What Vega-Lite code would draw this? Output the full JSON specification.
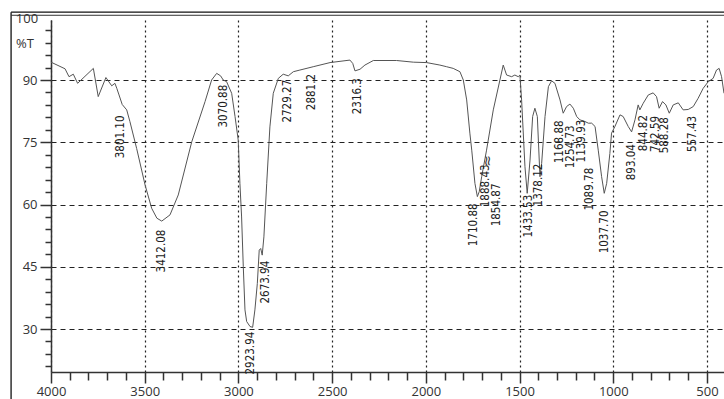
{
  "$schema": "https://vega.github.io/schema/vega-lite/v6.json",
  "width": 673,
  "height": 352,
  "autosize": {"type": "none"},
  "padding": {"left": 51, "top": 20, "right": 0, "bottom": 27},
  "background": "white",
  "config": {"view": {"stroke": null}},
  "datasets": {
    "spectrum": [
      {"wn": 4000, "t": 94.3}, {"wn": 3925, "t": 92.7}, {"wn": 3904, "t": 90.8}, {"wn": 3881, "t": 91.4},
      {"wn": 3858, "t": 89.2}, {"wn": 3774, "t": 92.8}, {"wn": 3748, "t": 86.0}, {"wn": 3707, "t": 90.6},
      {"wn": 3676, "t": 88.6}, {"wn": 3659, "t": 89.2}, {"wn": 3649, "t": 88.0}, {"wn": 3637, "t": 86.4},
      {"wn": 3620, "t": 84.1}, {"wn": 3596, "t": 82.8}, {"wn": 3579, "t": 80.0}, {"wn": 3543, "t": 73.5},
      {"wn": 3498, "t": 64.7}, {"wn": 3463, "t": 59.1}, {"wn": 3435, "t": 56.7}, {"wn": 3409, "t": 56.0},
      {"wn": 3365, "t": 57.5}, {"wn": 3321, "t": 62.3}, {"wn": 3249, "t": 75.1}, {"wn": 3178, "t": 84.8},
      {"wn": 3143, "t": 90.0}, {"wn": 3116, "t": 91.6}, {"wn": 3095, "t": 91.0}, {"wn": 3081, "t": 90.0},
      {"wn": 3063, "t": 89.6}, {"wn": 3036, "t": 86.8}, {"wn": 3018, "t": 81.2}, {"wn": 3001, "t": 75.5},
      {"wn": 2992, "t": 65.1}, {"wn": 2983, "t": 57.0}, {"wn": 2974, "t": 45.0}, {"wn": 2965, "t": 34.6},
      {"wn": 2956, "t": 31.8}, {"wn": 2938, "t": 30.6}, {"wn": 2924, "t": 30.4}, {"wn": 2912, "t": 34.6},
      {"wn": 2899, "t": 41.0}, {"wn": 2889, "t": 49.0}, {"wn": 2881, "t": 49.4}, {"wn": 2873, "t": 47.8},
      {"wn": 2864, "t": 52.2}, {"wn": 2849, "t": 65.1}, {"wn": 2832, "t": 78.7}, {"wn": 2814, "t": 86.8},
      {"wn": 2787, "t": 90.4}, {"wn": 2761, "t": 91.4}, {"wn": 2734, "t": 91.0}, {"wn": 2707, "t": 92.0},
      {"wn": 2672, "t": 92.4}, {"wn": 2601, "t": 93.2}, {"wn": 2511, "t": 94.2}, {"wn": 2405, "t": 94.8},
      {"wn": 2390, "t": 94.0}, {"wn": 2378, "t": 92.2}, {"wn": 2351, "t": 92.6}, {"wn": 2325, "t": 93.6},
      {"wn": 2280, "t": 94.7}, {"wn": 2156, "t": 94.7}, {"wn": 2067, "t": 94.3}, {"wn": 1996, "t": 94.2},
      {"wn": 1925, "t": 93.6}, {"wn": 1889, "t": 93.2}, {"wn": 1854, "t": 92.8}, {"wn": 1818, "t": 92.0},
      {"wn": 1800, "t": 90.0}, {"wn": 1782, "t": 85.2}, {"wn": 1765, "t": 77.2}, {"wn": 1755, "t": 73.1},
      {"wn": 1738, "t": 65.1}, {"wn": 1725, "t": 61.9}, {"wn": 1715, "t": 63.1}, {"wn": 1702, "t": 66.7},
      {"wn": 1676, "t": 73.1}, {"wn": 1640, "t": 82.8}, {"wn": 1587, "t": 93.6}, {"wn": 1578, "t": 92.4},
      {"wn": 1569, "t": 91.2}, {"wn": 1542, "t": 90.8}, {"wn": 1525, "t": 91.2}, {"wn": 1507, "t": 90.8},
      {"wn": 1498, "t": 91.2}, {"wn": 1489, "t": 85.2}, {"wn": 1471, "t": 69.1}, {"wn": 1459, "t": 62.7},
      {"wn": 1444, "t": 70.7}, {"wn": 1430, "t": 81.2}, {"wn": 1418, "t": 83.2}, {"wn": 1405, "t": 81.2},
      {"wn": 1391, "t": 66.7}, {"wn": 1382, "t": 69.9}, {"wn": 1364, "t": 81.2}, {"wn": 1346, "t": 88.4},
      {"wn": 1329, "t": 89.8}, {"wn": 1311, "t": 89.2}, {"wn": 1284, "t": 85.2}, {"wn": 1267, "t": 82.0},
      {"wn": 1249, "t": 83.6}, {"wn": 1231, "t": 84.2}, {"wn": 1213, "t": 83.2}, {"wn": 1195, "t": 81.2},
      {"wn": 1178, "t": 80.4}, {"wn": 1151, "t": 80.0}, {"wn": 1133, "t": 79.6}, {"wn": 1115, "t": 79.6},
      {"wn": 1097, "t": 78.8}, {"wn": 1080, "t": 73.1}, {"wn": 1062, "t": 66.7}, {"wn": 1048, "t": 62.7},
      {"wn": 1035, "t": 65.1}, {"wn": 1018, "t": 72.3}, {"wn": 1009, "t": 77.2}, {"wn": 991, "t": 78.8},
      {"wn": 964, "t": 81.6}, {"wn": 947, "t": 81.2}, {"wn": 920, "t": 78.8}, {"wn": 902, "t": 77.5},
      {"wn": 884, "t": 80.4}, {"wn": 867, "t": 84.0}, {"wn": 858, "t": 82.8}, {"wn": 840, "t": 84.4},
      {"wn": 813, "t": 86.4}, {"wn": 787, "t": 86.9}, {"wn": 769, "t": 86.0}, {"wn": 755, "t": 83.2},
      {"wn": 737, "t": 84.8}, {"wn": 719, "t": 84.0}, {"wn": 701, "t": 82.0}, {"wn": 680, "t": 84.0},
      {"wn": 653, "t": 84.5}, {"wn": 627, "t": 82.8}, {"wn": 600, "t": 82.9}, {"wn": 573, "t": 83.6},
      {"wn": 547, "t": 85.6}, {"wn": 520, "t": 88.0}, {"wn": 493, "t": 89.6}, {"wn": 467, "t": 90.4},
      {"wn": 449, "t": 92.4}, {"wn": 435, "t": 92.8}, {"wn": 422, "t": 90.8}, {"wn": 409, "t": 86.8}
    ],
    "peaks": [
      {"wn": 3626, "t": 76.3, "label": "3801.10"},
      {"wn": 3077, "t": 83.7, "label": "3070.88"},
      {"wn": 3408, "t": 48.8, "label": "3412.08"},
      {"wn": 2933, "t": 24.2, "label": "2923.94"},
      {"wn": 2853, "t": 41.3, "label": "2673.94"},
      {"wn": 2735, "t": 84.9, "label": "2729.27"},
      {"wn": 2607, "t": 87.1, "label": "2881.2"},
      {"wn": 2362, "t": 86.1, "label": "2316.3"},
      {"wn": 1743, "t": 55.1, "label": "1710.88"},
      {"wn": 1679, "t": 64.5, "label": "1888.43"},
      {"wn": 1620, "t": 59.9, "label": "1854.87"},
      {"wn": 1450, "t": 57.2, "label": "1433.53"},
      {"wn": 1396, "t": 64.7, "label": "1378.12"},
      {"wn": 1284, "t": 75.1, "label": "1168.88"},
      {"wn": 1226, "t": 73.9, "label": "1254.73"},
      {"wn": 1167, "t": 75.3, "label": "1139.93"},
      {"wn": 1124, "t": 63.7, "label": "1089.78"},
      {"wn": 1044, "t": 53.4, "label": "1037.70"},
      {"wn": 900, "t": 70.2, "label": "893.04"},
      {"wn": 836, "t": 77.2, "label": "844.82"},
      {"wn": 772, "t": 77.0, "label": "742.59"},
      {"wn": 724, "t": 76.7, "label": "588.28"},
      {"wn": 575, "t": 77.0, "label": "557.43"}
    ],
    "squiggle": [
      {"wn": 1668, "t": 70.5, "label": "≈"}
    ],
    "corner": [
      {"wn": 4128, "t": 104.6, "label": "100"},
      {"wn": 4139, "t": 98.7, "label": "%T"}
    ]
  },
  "layer": [
    {
      "data": {"name": "spectrum"},
      "mark": {"type": "line", "color": "#555555", "strokeWidth": 1, "clip": true},
      "encoding": {
        "x": {
          "field": "wn", "type": "quantitative",
          "scale": {"domain": [4000, 409], "nice": false, "zero": false},
          "axis": {
            "orient": "bottom", "title": null, "tickCount": 500,
            "values": [4000, 3900, 3800, 3700, 3600, 3500, 3400, 3300, 3200, 3100, 3000, 2900, 2800, 2700, 2600, 2500, 2400, 2300, 2200, 2100, 2000, 1900, 1800, 1700, 1600, 1500, 1400, 1300, 1200, 1100, 1000, 900, 800, 700, 600, 500],
            "labelExpr": "datum.value % 500 === 0 ? datum.label : ''",
            "format": "d",
            "tickSize": {"condition": {"test": "datum.value % 500 === 0", "value": 11}, "value": 8},
            "tickWidth": 1.5, "tickColor": "#333333",
            "domainColor": "#333333", "domainWidth": 1.5,
            "labelFont": "Open Sans", "labelFontSize": 13, "labelColor": "#333333", "labelPadding": 2,
            "labelFlush": false, "labelOverlap": false,
            "grid": true, "gridColor": "#222222", "gridDash": [2, 3], "gridWidth": 1.2,
            "gridOpacity": {"condition": {"test": "datum.value % 500 === 0", "value": 1}, "value": 0}
          }
        },
        "y": {
          "field": "t", "type": "quantitative",
          "scale": {"domain": [19.64, 104.46], "nice": false, "zero": false},
          "axis": {
            "orient": "left", "title": null, "tickCount": 500,
            "values": [21, 24, 27, 30, 33, 36, 39, 42, 45, 48, 51, 54, 57, 60, 63, 66, 69, 72, 75, 78, 81, 84, 87, 90, 93, 96, 99, 102],
            "format": "d",
            "labelExpr": "datum.value % 15 === 0 ? datum.label : ''",
            "tickSize": {"condition": {"test": "datum.value % 15 === 0", "value": 11}, "value": 6},
            "tickWidth": 1.5, "tickColor": "#333333",
            "domainColor": "#333333", "domainWidth": 1.5,
            "labelFont": "Open Sans", "labelFontSize": 13, "labelColor": "#333333", "labelPadding": 3,
            "labelFlush": false, "labelOverlap": false,
            "grid": true, "gridColor": "#222222", "gridDash": [5, 4], "gridWidth": 1,
            "gridOpacity": {"condition": {"test": "datum.value % 15 === 0", "value": 1}, "value": 0}
          }
        }
      }
    },
    {
      "data": {"name": "peaks"},
      "mark": {"type": "text", "angle": 270, "align": "center", "baseline": "middle", "font": "DejaVu Sans Condensed, Roboto, sans-serif", "fontSize": 11.5, "color": "#222222"},
      "encoding": {
        "x": {"field": "wn", "type": "quantitative"},
        "y": {"field": "t", "type": "quantitative"},
        "text": {"field": "label"}
      }
    },
    {
      "data": {"name": "squiggle"},
      "mark": {"type": "text", "angle": 270, "align": "center", "baseline": "middle", "font": "DejaVu Sans", "fontSize": 14, "color": "#333333"},
      "encoding": {
        "x": {"field": "wn", "type": "quantitative"},
        "y": {"field": "t", "type": "quantitative"},
        "text": {"field": "label"}
      }
    },
    {
      "data": {"name": "corner"},
      "mark": {"type": "text", "align": "center", "baseline": "middle", "font": "Open Sans", "fontSize": 13, "color": "#333333"},
      "encoding": {
        "x": {"field": "wn", "type": "quantitative"},
        "y": {"field": "t", "type": "quantitative"},
        "text": {"field": "label"}
      }
    },
    {
      "data": {"values": [{}]},
      "mark": {"type": "rule", "color": "#111111", "strokeWidth": 1.3},
      "encoding": {
        "x": {"datum": 4213, "type": "quantitative"},
        "y": {"datum": 106.34, "type": "quantitative"},
        "y2": {"datum": 5}
      }
    },
    {
      "data": {"values": [{}]},
      "mark": {"type": "rule", "color": "#111111", "strokeWidth": 1.3},
      "encoding": {
        "x": {"datum": 4213, "type": "quantitative"},
        "x2": {"datum": 300},
        "y": {"datum": 106.34, "type": "quantitative"}
      }
    },
    {
      "data": {"values": [{}]},
      "mark": {"type": "rule", "color": "#333333", "strokeWidth": 1},
      "encoding": {
        "x": {"datum": 4213, "type": "quantitative"},
        "x2": {"datum": 300},
        "y": {"datum": 105.6, "type": "quantitative"}
      }
    }
  ]
}
